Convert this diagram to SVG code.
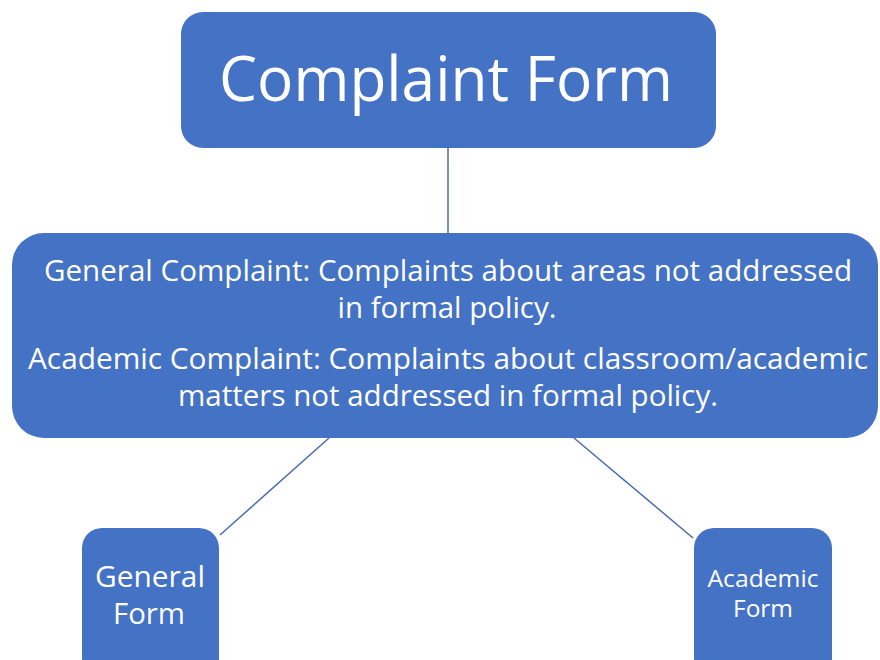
<svg xmlns="http://www.w3.org/2000/svg" width="880" height="660" viewBox="0 0 880 660">
<style>
.box{fill:#4472C4;}
.t{fill:#ffffff;font-family:"Open Sans","Liberation Sans",sans-serif;text-anchor:middle;}
.c{stroke:#4A6BAA;stroke-width:1.5;fill:none;}
</style>
<rect width="880" height="660" fill="#ffffff"/>
<g id="connectors">
<line class="c" x1="448" y1="148" x2="448" y2="234"/>
<line class="c" x1="329" y1="438" x2="220" y2="535"/>
<line class="c" x1="574" y1="438" x2="693" y2="538"/>
</g>
<g id="complaint-form">
<rect class="box" x="181" y="12" width="535" height="136" rx="22"/>
<text class="t" x="446" y="101" font-size="63" textLength="454" lengthAdjust="spacingAndGlyphs">Complaint Form</text>
</g>
<g id="complaint-types">
<rect class="box" x="12" y="233" width="866" height="205" rx="32"/>
<text class="t" x="448" y="281" font-size="29" textLength="808" lengthAdjust="spacingAndGlyphs">General Complaint: Complaints about areas not addressed</text>
<text class="t" x="447" y="318" font-size="29" textLength="219" lengthAdjust="spacingAndGlyphs">in formal policy.</text>
<text class="t" x="448" y="369" font-size="29" textLength="840" lengthAdjust="spacingAndGlyphs">Academic Complaint: Complaints about classroom/academic</text>
<text class="t" x="448" y="406" font-size="29" textLength="540" lengthAdjust="spacingAndGlyphs">matters not addressed in formal policy.</text>
</g>
<g id="general-form">
<rect class="box" x="82" y="528" width="137" height="150" rx="20"/>
<text class="t" x="150" y="587" font-size="29" textLength="110" lengthAdjust="spacingAndGlyphs">General</text>
<text class="t" x="149" y="624" font-size="29" textLength="72" lengthAdjust="spacingAndGlyphs">Form</text>
</g>
<g id="academic-form">
<rect class="box" x="694" y="528" width="138" height="150" rx="20"/>
<text class="t" x="763" y="587" font-size="24" textLength="111" lengthAdjust="spacingAndGlyphs">Academic</text>
<text class="t" x="763" y="617" font-size="24" textLength="60" lengthAdjust="spacingAndGlyphs">Form</text>
</g>
</svg>
